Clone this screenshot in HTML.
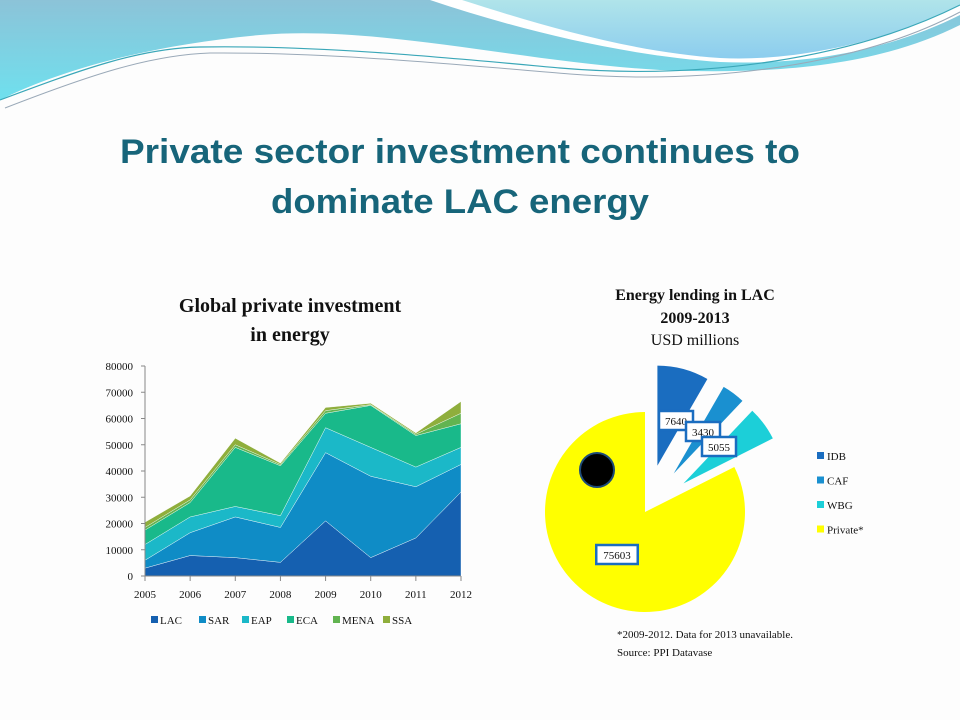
<!DOCTYPE html>
<html><head><meta charset="utf-8"><style>
html,body{margin:0;padding:0;background:#fdfdfd;}
svg{display:block;}
</style></head><body>
<svg id="root" width="960" height="720" viewBox="0 0 960 720" xmlns="http://www.w3.org/2000/svg">
<defs>
<linearGradient id="gb" x1="0" y1="0" x2="0" y2="1"><stop offset="0" stop-color="#8cc3d8"/><stop offset="1" stop-color="#6fe0ee"/></linearGradient>
<linearGradient id="gl" x1="0" y1="0" x2="0" y2="1"><stop offset="0" stop-color="#b0e4ea"/><stop offset="1" stop-color="#8ccdee"/></linearGradient>
</defs>
<g>
<path d="M0,0 H960 V25 C880,65 780,75 660,70 C520,62 380,25 260,35 C150,45 60,70 0,100 Z" fill="url(#gb)"/>
<path d="M430,0 C520,30 620,55 720,62 C820,66 900,45 960,15 V0 Z" fill="#fff"/>
<path d="M462,0 C540,25 630,52 720,58 C800,62 890,40 960,5 V0 Z" fill="url(#gl)"/>
<path d="M0,100 C80,70 140,48 200,47 C320,45 450,58 560,68 C700,80 850,60 960,5" fill="none" stroke="#3aa7b8" stroke-width="1.2"/>
<path d="M5,108 C90,75 150,55 210,53 C330,52 460,65 570,74 C710,85 860,65 960,12" fill="none" stroke="#9aa9b8" stroke-width="1"/>
</g>
<text x="460" y="163" text-anchor="middle" font-family="Liberation Sans, sans-serif" font-weight="bold" font-size="34" fill="#17657a" textLength="680" lengthAdjust="spacingAndGlyphs">Private sector investment continues to</text>
<text x="460" y="213" text-anchor="middle" font-family="Liberation Sans, sans-serif" font-weight="bold" font-size="34" fill="#17657a" textLength="378" lengthAdjust="spacingAndGlyphs">dominate LAC energy</text>

<text x="290" y="312" text-anchor="middle" font-family="Liberation Serif, serif" font-weight="bold" font-size="20" fill="#111">Global private investment</text>
<text x="290" y="341" text-anchor="middle" font-family="Liberation Serif, serif" font-weight="bold" font-size="20" fill="#111">in energy</text>

<text x="695" y="300" text-anchor="middle" font-family="Liberation Serif, serif" font-weight="bold" font-size="16" fill="#111">Energy lending in LAC</text>
<text x="695" y="323" text-anchor="middle" font-family="Liberation Serif, serif" font-weight="bold" font-size="16" fill="#111">2009-2013</text>
<text x="695" y="345" text-anchor="middle" font-family="Liberation Serif, serif" font-size="16" fill="#111">USD millions</text>

<g id="area"></g>
<g id="pie"></g>

<text x="617" y="638" font-family="Liberation Serif, serif" font-size="11" fill="#111">*2009-2012.  Data for 2013  unavailable.</text>
<text x="617" y="656" font-family="Liberation Serif, serif" font-size="11" fill="#111">Source:  PPI Datavase</text>
</svg>
<script>
const years = ["2005","2006","2007","2008","2009","2010","2011","2012"];
const seriesNames = ["LAC","SAR","EAP","ECA","MENA","SSA"];
const LAC  = [3000,7800,7000,5200,21000,7000,14500,32000];
const SAR  = [3000,8700,15500,13300,26000,31000,19500,10500];
const EAP  = [6000,6000,4000,4500,9500,11000,7500,6500];
const ECA  = [5500,5500,22500,19000,5500,16000,12000,9000];
const MENA = [1000,1000,1000,500,1000,300,500,4000];
const SSA  = [2000,1500,2500,500,1200,500,500,4500];
const yTicks = [0,10000,20000,30000,40000,50000,60000,70000,80000];
const pieLabels = ["IDB","CAF","WBG","Private*"];
const pieValues = [7640,3430,5055,75603];

const NS="http://www.w3.org/2000/svg";
function mk(tag, attrs, parent){const e=document.createElementNS(NS,tag);for(const k in attrs)e.setAttribute(k,attrs[k]);parent.appendChild(e);return e;}

// Area chart
const area=document.getElementById('area');
const colors=["#1560b0","#0f8cc6","#1bb8c8","#19b98a","#62b451","#8fae3c"];
const X0=145,X1=461,Y0=576,Y1=366;
const xs=i=>X0+(X1-X0)*i/(years.length-1);
const ys=v=>Y0-(Y0-Y1)*v/80000;
const data=[LAC,SAR,EAP,ECA,MENA,SSA];
let base=years.map(()=>0);
data.forEach((s,si)=>{
  const top=base.map((b,i)=>b+s[i]);
  let d="M"+years.map((_,i)=>xs(i)+","+ys(top[i])).join(" L");
  for(let i=years.length-1;i>=0;i--) d+=" L"+xs(i)+","+ys(base[i]);
  d+=" Z";
  const p=mk('path',{d:d,fill:colors[si],stroke:"#ffffff","stroke-width":"0.4"},area);
  
  
  base=top;
});
const yAxis=mk('line',{x1:X0,y1:Y1,x2:X0,y2:Y0,stroke:"#888","stroke-width":"1"},area);


const xAxis=mk('line',{x1:X0,y1:Y0,x2:X1,y2:Y0,stroke:"#888","stroke-width":"1"},area);


yTicks.forEach(t=>{
  mk('line',{x1:X0-4,y1:ys(t),x2:X0,y2:ys(t),stroke:"#888"},area);
  const tx=mk('text',{x:X0-12,y:ys(t)+4,"text-anchor":"end","font-family":"Liberation Serif, serif","font-size":"11",fill:"#111"},area);
  tx.textContent=t;
  
  
});
years.forEach((y,i)=>{
  mk('line',{x1:xs(i),y1:Y0,x2:xs(i),y2:Y0+5,stroke:"#888"},area);
  const tx=mk('text',{x:xs(i),y:598,"text-anchor":"middle","font-family":"Liberation Serif, serif","font-size":"11",fill:"#111"},area);
  tx.textContent=y;
  
  
});
const legX=[151,199,242,287,333,383];
seriesNames.forEach((n,i)=>{
  const g=mk('g',{},area);
  
  
  mk('rect',{x:legX[i],y:616,width:7,height:7,fill:colors[i]},g);
  const t=mk('text',{x:legX[i]+9,y:624,"font-family":"Liberation Serif, serif","font-size":"11",fill:"#111"},g);
  t.textContent=n;
});

// Pie chart
const pie=document.getElementById('pie');
const pcolors=["#1a6dc0","#1a90d0","#1ccfd8","#ffff00"];
const CX=645,CY=512,R=100;
const total=pieValues.reduce((a,b)=>a+b,0);
let ang=0;
const explode=[48,48,48,0];
const labelPos=[];
pieValues.forEach((v,i)=>{
  const sweep=v/total*2*Math.PI;
  const mid=ang+sweep/2;
  const ox=CX+explode[i]*Math.sin(mid), oy=CY-explode[i]*Math.cos(mid);
  const x1=ox+R*Math.sin(ang), y1=oy-R*Math.cos(ang);
  const x2=ox+R*Math.sin(ang+sweep), y2=oy-R*Math.cos(ang+sweep);
  const large=sweep>Math.PI?1:0;
  const p=mk('path',{d:`M${ox},${oy} L${x1},${y1} A${R},${R} 0 ${large} 1 ${x2},${y2} Z`,fill:pcolors[i]},pie);
  
  
  labelPos.push([ox,oy,mid]);
  ang+=sweep;
});
const circ=mk('circle',{cx:597,cy:470,r:17,fill:"#000",stroke:"#1d4a78","stroke-width":"2"},pie);


const boxPos=[[676,421],[703,432],[719,447],[617,555]];
pieValues.forEach((v,i)=>{
  const g=mk('g',{},pie);
  
  
  const w=String(v).length*7.5+4;
  mk('rect',{x:boxPos[i][0]-w/2,y:boxPos[i][1]-10,width:w,height:19,fill:"#fff",stroke:"#1a6dc0","stroke-width":"2.5"},g);
  const t=mk('text',{x:boxPos[i][0],y:boxPos[i][1]+4,"text-anchor":"middle","font-family":"Liberation Serif, serif","font-size":"11",fill:"#111"},g);
  t.textContent=v;
});
pieLabels.forEach((n,i)=>{
  const g=mk('g',{},pie);
  
  
  mk('rect',{x:817,y:452+i*24.5,width:7,height:7,fill:pcolors[i]},g);
  const t=mk('text',{x:827,y:460+i*24.5,"font-family":"Liberation Serif, serif","font-size":"11",fill:"#111"},g);
  t.textContent=n;
});
</script>
</body></html>
